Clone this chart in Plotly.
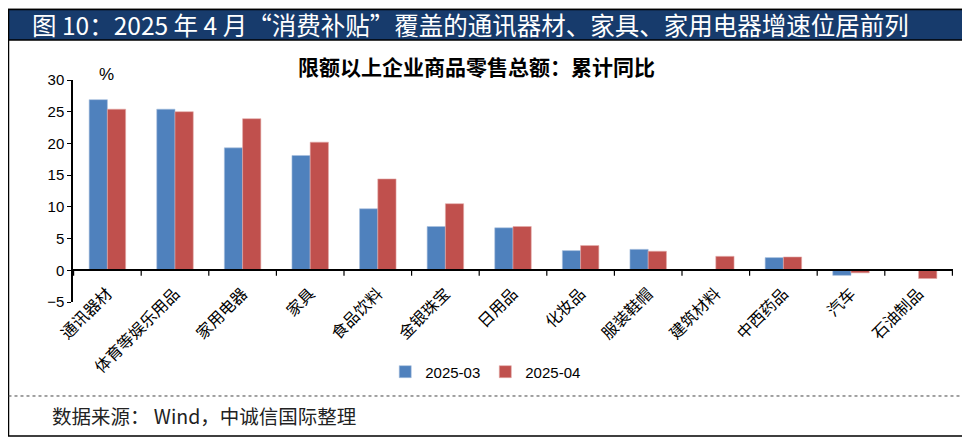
import plotly.graph_objects as go

# 数据：限额以上企业商品零售总额累计同比(%)
categorias = ["通讯器材", "体育等娱乐用品", "家用电器", "家具", "食品饮料", "金银珠宝",
              "日用品", "化妆品", "服装鞋帽", "建筑材料", "中西药品", "汽车", "石油制品"]
mar_2025 = [26.9, 25.4, 19.3, 18.1, 9.7, 6.9, 6.7, 3.1, 3.3, None, 2.0, -0.8, None]
abr_2025 = [25.4, 25.0, 23.9, 20.2, 14.4, 10.5, 6.9, 3.9, 3.0, 2.2, 2.1, -0.4, -1.3]
y_ticks = [-5, 0, 5, 10, 15, 20, 25, 30]

azul = "#4F81BD"
rojo = "#C0504D"

fig = go.Figure()
fig.add_trace(go.Bar(x=categorias, y=mar_2025, name="2025-03",
                     marker=dict(color=azul, line=dict(color="#A7C0DE", width=0.6))))
fig.add_trace(go.Bar(x=categorias, y=abr_2025, name="2025-04",
                     marker=dict(color=rojo, line=dict(color="#E3A9A8", width=0.6))))

# la pagina tiene 8px de margen en body, por eso 962x434
fig.update_layout(
    width=962, height=434,
    margin=dict(l=65, r=17, t=72, b=140, autoexpand=False),
    plot_bgcolor="white", paper_bgcolor="white",
    barmode="group", bargap=0.46, bargroupgap=0,
    showlegend=True,
    legend=dict(orientation="h", x=0.469, xanchor="center", y=-0.315, yanchor="middle",
                font=dict(family="Liberation Sans", size=15, color="black"),
                itemwidth=30, traceorder="normal"),
    font=dict(family="Noto Sans CJK SC", color="black"),
)

fig.update_yaxes(range=[-5, 30], tickvals=y_ticks, showgrid=False, zeroline=False,
                 automargin=False,
                 showline=True, linecolor="black", linewidth=1.5,
                 ticks="outside", ticklen=4, tickcolor="black",
                 tickfont=dict(family="Liberation Sans", size=15, color="black"))
# eje x colocado en el cero
fig.update_xaxes(showgrid=False, showline=True, linecolor="black", linewidth=1.5,
                 ticks="", tickangle=-45, automargin=False,
                 anchor="free", position=5 / 35, ticklabelstandoff=7,
                 tickfont=dict(family="Noto Sans CJK SC", size=16, color="black"))

# marcas entre categorias
for i in range(len(categorias) + 1):
    fig.add_shape(type="line", xref="x", yref="paper", x0=i - 0.5, x1=i - 0.5,
                  y0=(5 / 35) - 0.025, y1=5 / 35, line=dict(color="black", width=1.2))

# marco, banda de titulo, linea punteada
fig.add_shape(type="rect", xref="paper", yref="paper", x0=-0.0733, x1=1.0148,
              y0=-0.6036, y1=1.3176, line=dict(color="black", width=1.5), layer="below")
fig.add_shape(type="rect", xref="paper", yref="paper", x0=-0.0733, x1=1.0148,
              y0=1.180, y1=1.3176, fillcolor="#173B6C", line=dict(color="black", width=1.5))
fig.add_shape(type="line", xref="paper", yref="paper", x0=-0.0733, x1=1.0148,
              y0=-0.4234, y1=-0.4234, line=dict(color="#444444", width=1, dash="dot"))

fig.add_annotation(text="图 10：2025 年 4 月“消费补贴”覆盖的通讯器材、家具、家用电器增速位居前列",
                   xref="paper", yref="paper", x=0.452, y=1.248, xanchor="center", yanchor="middle",
                   showarrow=False, font=dict(family="Noto Sans CJK SC", size=24.5, color="white"))
fig.add_annotation(text="<b>限额以上企业商品零售总额：累计同比</b>",
                   xref="paper", yref="paper", x=0.459, y=1.063, xanchor="center", yanchor="middle",
                   showarrow=False, font=dict(family="Noto Sans CJK SC", size=21, color="black"))
fig.add_annotation(text="%", xref="paper", yref="paper", x=0.0375, y=1.027,
                   xanchor="center", yanchor="middle", showarrow=False,
                   font=dict(family="Liberation Sans", size=17, color="black"))
fig.add_annotation(text="数据来源： Wind，中诚信国际整理", xref="paper", yref="paper",
                   x=-0.0261, y=-0.5135, xanchor="left", yanchor="middle", showarrow=False,
                   font=dict(family="Noto Sans CJK SC", size=19.5, color="#222222"))

fig.write_html("out.html")
